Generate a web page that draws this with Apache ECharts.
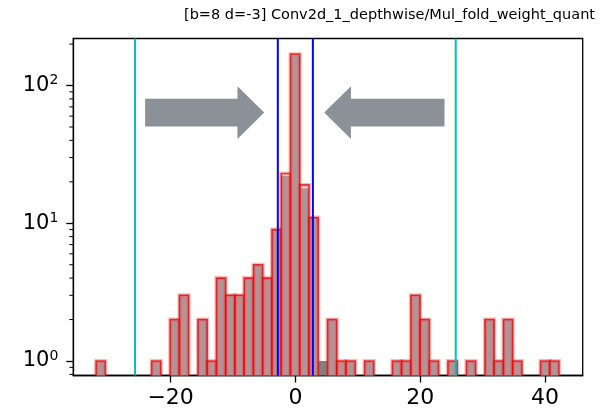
<!DOCTYPE html>
<html>
<head>
<meta charset="utf-8">
<script src="https://cdn.jsdelivr.net/npm/echarts@6/dist/echarts.min.js"></script>
<style>
  html, body { margin: 0; padding: 0; background: #fff; }
  #chart { width: 608px; height: 411px; }
</style>
</head>
<body>
<div id="chart"></div>
<script>
// Histogram bin grid (50 equal-width bins)
const BIN_START = -31.95;
const BIN_WIDTH = 1.484;

// Per-bin counts: float weights (red outline) and quantized weights (gray)
const floatCounts = [
  1, 0, 0, 0, 0, 0, 1, 0, 2, 3,
  0, 2, 1, 4, 3, 3, 4, 5, 4, 9,
  23, 169, 19, 11, 0, 2, 1, 1, 0, 1,
  0, 0, 1, 1, 3, 2, 1, 0, 1, 0,
  1, 0, 2, 1, 2, 1, 0, 0, 1, 1
];
const quantCounts = [
  1, 0, 0, 0, 0, 0, 1, 0, 2, 3,
  0, 2, 1, 4, 3, 3, 4, 5, 4, 9,
  22, 166, 18, 11, 1, 2, 1, 1, 0, 1,
  0, 0, 1, 1, 3, 2, 1, 0, 1, 0,
  1, 0, 2, 1, 2, 1, 0, 0, 1, 1
];

// Axis ticks
const xTicks = [-20, 0, 20, 40];
const yTicks = [1, 10, 100];
const yMinorTicks = [0.8, 0.9, 2, 3, 4, 5, 6, 7, 8, 9, 20, 30, 40, 50, 60, 70, 80, 90, 200];

// Reference lines
const clipLines = [-25.7, 25.7];   // cyan: clipping range
const rangeLines = [-2.82, 2.8];   // blue: quantization range

// Inward arrows: [tailX, headBaseX, tipX, y]
const arrows = [
  [-24.09, -9.29, -5.0, 63.6],
  [23.9, 8.9, 4.62, 63.6]
];

const TITLE = '[b=8 d=-3] Conv2d_1_depthwise/Mul_fold_weight_quant';
const X_MIN = -35.6, X_MAX = 46.05;
const Y_MIN = 0.785, Y_MAX = 219.6;
const FONT = 'DejaVu Sans';

function binData(counts) {
  const out = [];
  counts.forEach(function (c, i) {
    if (c > 0) out.push([BIN_START + i * BIN_WIDTH, BIN_START + (i + 1) * BIN_WIDTH, c]);
  });
  return out;
}

function barRenderer(fill, strokes) {
  return function (params, api) {
    const x0 = api.value(0), x1 = api.value(1), c = api.value(2);
    const pTop = api.coord([x0, c]);
    const pBot = api.coord([x1, Y_MIN]);
    const children = [{
      type: 'rect',
      shape: { x: pTop[0], y: pTop[1], width: pBot[0] - pTop[0], height: pBot[1] - pTop[1] },
      style: { fill: fill }
    }];
    strokes.forEach(function (s) {
      children.push({
        type: 'polyline',
        shape: { points: [[pTop[0], pBot[1]], [pTop[0], pTop[1]], [pBot[0], pTop[1]], [pBot[0], pBot[1]]] },
        style: { fill: null, stroke: s.color, lineWidth: s.width, lineJoin: 'miter' }
      });
    });
    return { type: 'group', children: children };
  };
}

function vlineRenderer(color) {
  return function (params, api) {
    const x = api.value(0);
    const a = api.coord([x, Y_MIN]);
    const b = api.coord([x, Y_MAX]);
    return {
      type: 'line',
      shape: { x1: a[0], y1: a[1], x2: b[0], y2: b[1] },
      style: { stroke: color, lineWidth: 2 }
    };
  };
}

// Short minor ticks on the log axis (2..9 x 10^n)
function minorTickRenderer(params, api) {
  const p = api.coord([X_MIN, api.value(0)]);
  return {
    type: 'line',
    shape: { x1: p[0] - 4, y1: p[1], x2: p[0], y2: p[1] },
    style: { stroke: '#000', lineWidth: 1 }
  };
}

function arrowRenderer(params, api) {
  const tail = api.coord([api.value(0), api.value(3)]);
  const base = api.coord([api.value(1), api.value(3)]);
  const tip = api.coord([api.value(2), api.value(3)]);
  const sh = 13.9, hh = 26.3;
  const y = tip[1];
  return {
    type: 'polygon',
    shape: {
      points: [
        [tail[0], y - sh], [base[0], y - sh], [base[0], y - hh], [tip[0], y],
        [base[0], y + hh], [base[0], y + sh], [tail[0], y + sh]
      ]
    },
    style: { fill: '#8c9197' }
  };
}

const chart = echarts.init(document.getElementById('chart'), null, { renderer: 'canvas' });

chart.setOption({
  animation: false,
  backgroundColor: '#fff',
  title: {
    text: TITLE,
    left: 184,
    top: 8,
    padding: 0,
    textStyle: { fontFamily: FONT, fontSize: 14.5, fontWeight: 'normal', color: '#000' }
  },
  grid: {
    left: 73.3, right: 25.3, top: 38.5, bottom: 35.5,
    show: true, borderColor: '#000', borderWidth: 1.3, backgroundColor: 'transparent'
  },
  xAxis: {
    type: 'value',
    min: X_MIN, max: X_MAX,
    axisLine: { onZero: false, lineStyle: { color: '#000', width: 1.3 } },
    axisTick: { customValues: xTicks, length: 7, lineStyle: { color: '#000', width: 1.3 } },
    axisLabel: {
      customValues: xTicks,
      formatter: function (v) { return String(v).replace('-', '\u2212'); },
      fontFamily: FONT, fontSize: 22, color: '#000', margin: 12
    },
    splitLine: { show: false }
  },
  yAxis: {
    type: 'log', logBase: 10,
    min: Y_MIN, max: Y_MAX,
    axisLine: { onZero: false, lineStyle: { color: '#000', width: 1.3 } },
    axisTick: { customValues: yTicks, length: 7, lineStyle: { color: '#000', width: 1.3 } },
    axisLabel: {
      customValues: yTicks,
      formatter: function (v) {
        const e = Math.round(Math.log10(v));
        return '{b|10}{e|' + e + '}';
      },
      margin: 15,
      rich: {
        b: { fontFamily: FONT, fontSize: 21, color: '#000', lineHeight: 24 },
        e: { fontFamily: FONT, fontSize: 14, color: '#000', lineHeight: 14, verticalAlign: 'top' }
      }
    },
    splitLine: { show: false }
  },
  series: [{
    type: 'custom',
    name: 'quantized',
    renderItem: barRenderer('#7f7f7f', []),
    encode: { x: [0, 1], y: 2 },
    data: binData(quantCounts),
    z: 2
  }, {
    type: 'custom',
    name: 'float',
    renderItem: barRenderer('rgba(255,180,190,0.4)', [
      { color: 'rgba(255,60,60,0.35)', width: 4 },
      { color: 'rgba(215,0,0,0.7)', width: 1.6 }
    ]),
    encode: { x: [0, 1], y: 2 },
    data: binData(floatCounts),
    z: 3
  }, {
    type: 'custom',
    name: 'range',
    renderItem: vlineRenderer('#0000ff'),
    encode: { x: 0 },
    data: rangeLines.map(function (v) { return [v]; }),
    z: 4
  }, {
    type: 'custom',
    name: 'clip',
    renderItem: vlineRenderer('#00bfbf'),
    encode: { x: 0 },
    data: clipLines.map(function (v) { return [v]; }),
    z: 4
  }, {
    type: 'custom',
    name: 'arrows',
    renderItem: arrowRenderer,
    encode: { x: [0, 1, 2], y: 3 },
    data: arrows,
    z: 5
  }, {
    type: 'custom',
    name: 'minorTicks',
    renderItem: minorTickRenderer,
    encode: { y: 0 },
    clip: false,
    silent: true,
    data: yMinorTicks.map(function (v) { return [v]; }),
    z: 6
  }]
});
</script>
</body>
</html>
